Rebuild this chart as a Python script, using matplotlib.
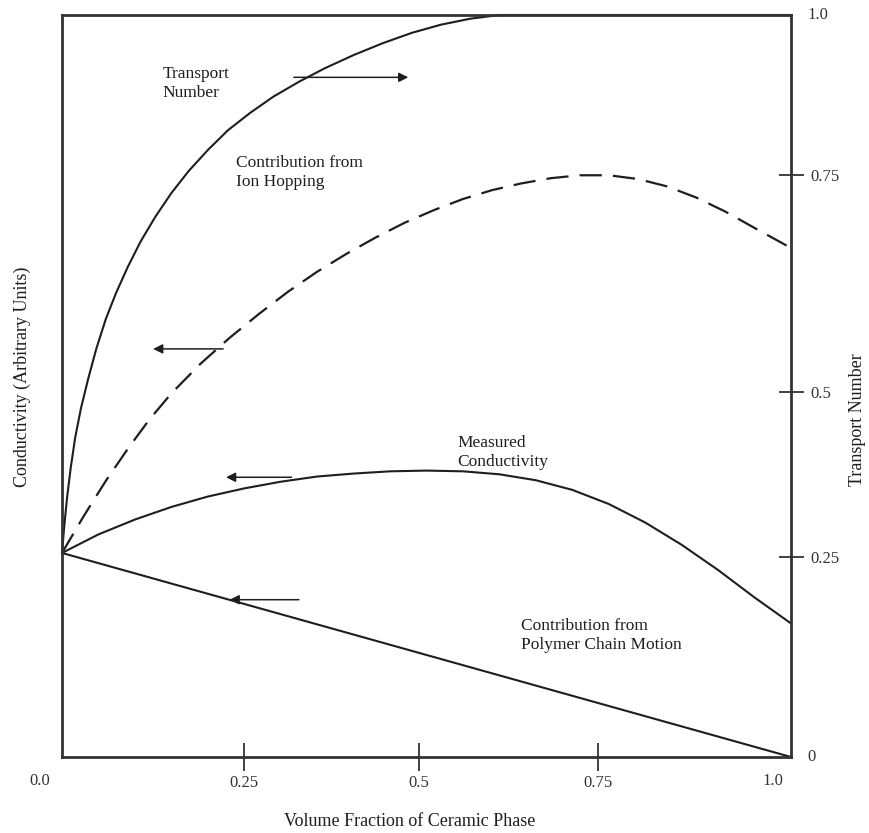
import matplotlib.pyplot as plt

plt.rcParams['font.family'] = ['Liberation Serif', 'DejaVu Serif']

# schematic curves, both axes normalised 0..1
transport_x = [0, 0.003, 0.007, 0.012, 0.018, 0.026, 0.036, 0.047, 0.06, 0.074,
               0.09, 0.108, 0.128, 0.15, 0.174, 0.2, 0.228, 0.258, 0.29, 0.325,
               0.36, 0.4, 0.44, 0.48, 0.52, 0.56, 0.6, 1.0]
transport_y = [0.275, 0.31, 0.35, 0.39, 0.43, 0.47, 0.51, 0.55, 0.59, 0.625,
               0.66, 0.695, 0.728, 0.76, 0.79, 0.818, 0.845, 0.868, 0.89, 0.91,
               0.928, 0.946, 0.962, 0.976, 0.987, 0.995, 1.0, 1.0]

ion_x = [0, 0.03, 0.06, 0.09, 0.12, 0.15, 0.19, 0.23, 0.27, 0.31, 0.35, 0.39,
         0.43, 0.47, 0.51, 0.55, 0.59, 0.63, 0.67, 0.71, 0.75, 0.79, 0.83, 0.87,
         0.91, 0.95, 1.0]
ion_y = [0.275, 0.325, 0.372, 0.415, 0.455, 0.49, 0.53, 0.565, 0.597, 0.627,
         0.654, 0.678, 0.7, 0.72, 0.737, 0.752, 0.764, 0.773, 0.78, 0.784, 0.784,
         0.779, 0.769, 0.754, 0.735, 0.713, 0.686]

measured_x = [0, 0.05, 0.1, 0.15, 0.2, 0.25, 0.3, 0.35, 0.4, 0.45, 0.5, 0.55,
              0.6, 0.65, 0.7, 0.75, 0.8, 0.85, 0.9, 0.95, 1.0]
measured_y = [0.275, 0.3, 0.32, 0.337, 0.351, 0.362, 0.371, 0.378, 0.382, 0.385,
              0.386, 0.385, 0.381, 0.373, 0.36, 0.341, 0.316, 0.286, 0.252, 0.215, 0.18]

polymer_x = [0, 1.0]
polymer_y = [0.275, 0.0]

# x ticks (volume fraction) and right-hand ticks (transport number)
x_tick_pos = [0.25, 0.49, 0.735]
x_tick_labels = ['0.25', '0.5', '0.75']
t_tick_pos = [0.27, 0.492, 0.784]
t_tick_labels = ['0.25', '0.5', '0.75']

# arrows: (tail, head) and labels
arrows = [((0.318, 0.916), (0.475, 0.916)),
          ((0.221, 0.55), (0.125, 0.55)),
          ((0.315, 0.377), (0.225, 0.377)),
          ((0.325, 0.212), (0.23, 0.212))]
labels = [(0.138, 0.908, 'Transport\nNumber'),
          (0.238, 0.788, 'Contribution from\nIon Hopping'),
          (0.542, 0.411, 'Measured\nConductivity'),
          (0.63, 0.164, 'Contribution from\nPolymer Chain Motion')]

ink = '#1e1e1e'
fig = plt.figure(figsize=(8.69, 8.33), dpi=100)
ax = fig.add_axes([62 / 869, 76 / 833, 729 / 869, 742 / 833])
ax.set_xlim(0, 1)
ax.set_ylim(0, 1)

ax.plot(transport_x, transport_y, color=ink, lw=1.5, clip_on=False)
ax.plot(ion_x, ion_y, color=ink, lw=1.6, dashes=(10, 5))
ax.plot(measured_x, measured_y, color=ink, lw=1.5)
ax.plot(polymer_x, polymer_y, color=ink, lw=1.5)

for tail, head in arrows:
    ax.annotate('', xy=head, xytext=tail,
                arrowprops=dict(arrowstyle='-|>', color=ink, lw=1.1,
                                mutation_scale=14, shrinkA=0, shrinkB=0))
for x, y, s in labels:
    ax.text(x, y, s, ha='left', va='center', fontsize=12.5, color=ink,
            linespacing=1.25)

for sp in ax.spines.values():
    sp.set_linewidth(2)
    sp.set_color('#333333')

ax.set_xticks(x_tick_pos)
ax.set_xticklabels(x_tick_labels)
ax.tick_params(axis='x', direction='inout', length=20, width=1.3, pad=3,
               labelsize=12, colors='#333333')
ax.yaxis.tick_right()
ax.set_yticks(t_tick_pos)
ax.set_yticklabels(t_tick_labels)
ax.tick_params(axis='y', direction='inout', length=18, width=1.3, pad=5,
               labelsize=12, colors='#333333')

# end labels without tick marks
ax.text(-0.03, -0.022, '0.0', transform=ax.transAxes, ha='center', va='top',
        fontsize=12, color='#333333')
ax.text(0.975, -0.022, '1.0', transform=ax.transAxes, ha='center', va='top',
        fontsize=12, color='#333333')
ax.text(1.022, 0.0, '0', transform=ax.transAxes, ha='left', va='center',
        fontsize=12, color='#333333')
ax.text(1.022, 1.0, '1.0', transform=ax.transAxes, ha='left', va='center',
        fontsize=12, color='#333333')

fig.text(410 / 869, 1 - 822 / 833, 'Volume Fraction of Ceramic Phase',
         ha='center', va='center', fontsize=13, color=ink)
fig.text(22 / 869, 1 - 377 / 833, 'Conductivity (Arbitrary Units)',
         ha='center', va='center', rotation=90, fontsize=13, color=ink)
fig.text(858 / 869, 1 - 420 / 833, 'Transport Number',
         ha='center', va='center', rotation=90, fontsize=13, color=ink)

fig.savefig('out.png', dpi=100)
